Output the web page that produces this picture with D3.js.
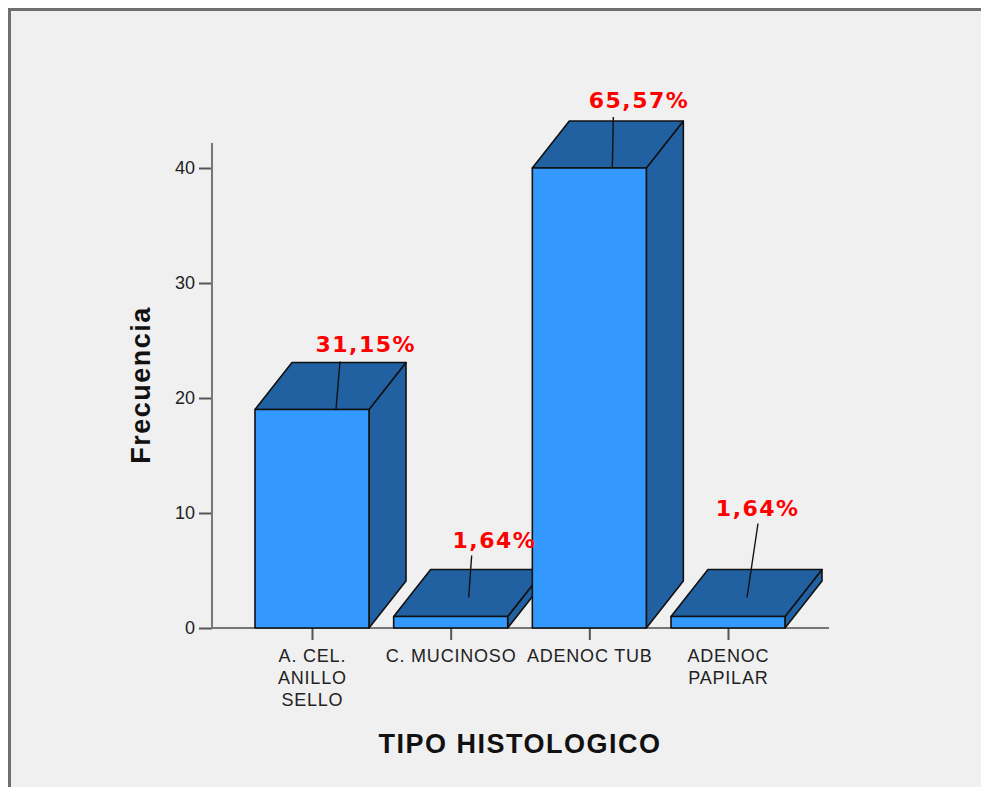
<!DOCTYPE html>
<html>
<head>
<meta charset="utf-8">
<script src="https://cdn.jsdelivr.net/npm/d3@7"></script>
<style>
  html, body { margin: 0; padding: 0; background: #ffffff; }
  svg { display: block; }
</style>
</head>
<body>
<svg id="chart" width="981" height="787"></svg>
<script>
// Histological type frequencies
const categories = ["A. CEL. ANILLO SELLO", "C. MUCINOSO", "ADENOC TUB", "ADENOC PAPILAR"];
const tickLabelLines = [["A. CEL.", "ANILLO", "SELLO"], ["C. MUCINOSO"], ["ADENOC TUB"], ["ADENOC", "PAPILAR"]];
const frequencies = [19, 1, 40, 1];
const percentLabels = ["31,15%", "1,64%", "65,57%", "1,64%"];
const yTicks = [0, 10, 20, 30, 40];

// Label placement relative to each bar's front-top centre: text anchor and leader line ends
const labelLayout = [
  { tx: 53, ty: -58, lx1: 28, ly1: -48, lx2: 24, ly2: 0 },
  { tx: 43, ty: -69, lx1: 21, ly1: -61, lx2: 18, ly2: -19 },
  { tx: 49, ty: -60, lx1: 24, ly1: -51, lx2: 23, ly2: -1 },
  { tx: 29, ty: -101, lx1: 30, ly1: -93, lx2: 19, ly2: -19 }
];

const svg = d3.select("#chart");
const FRONT = "#3399ff", DARK = "#2161a1", AXIS = "#777777";
const depthX = 37, depthY = -47;
const barW = 114;

// Panel frame
svg.append("rect").attr("x", 0).attr("y", 0).attr("width", 981).attr("height", 787).attr("fill", "#ffffff");
svg.append("rect").attr("x", 9.5).attr("y", 9.5).attr("width", 1100).attr("height", 1100)
  .attr("fill", "#f0f0f0").attr("stroke", "#6e6e6e").attr("stroke-width", 3);

const x = d3.scalePoint().domain(categories).range([312, 728]);
const y = d3.scaleLinear().domain([0, 40]).range([628, 168]);

// Y axis
const yAxis = svg.append("g").attr("transform", "translate(212,0)")
  .call(d3.axisLeft(y).tickValues(yTicks).tickSize(13).tickPadding(4));
yAxis.select(".domain").remove();
yAxis.selectAll(".tick line").attr("stroke", "#555").attr("stroke-width", 2);
yAxis.selectAll(".tick text")
  .attr("font-family", "Liberation Sans, Arial, sans-serif")
  .attr("font-size", 18).attr("fill", "#222");
svg.append("line").attr("x1", 212).attr("x2", 212).attr("y1", 143).attr("y2", 629)
  .attr("stroke", AXIS).attr("stroke-width", 2);

// X baseline and ticks
svg.append("line").attr("x1", 211).attr("x2", 829).attr("y1", 628).attr("y2", 628)
  .attr("stroke", AXIS).attr("stroke-width", 2);
const xAxis = svg.append("g").attr("transform", "translate(0,628)")
  .call(d3.axisBottom(x).tickSize(12).tickFormat(""));
xAxis.select(".domain").remove();
xAxis.selectAll(".tick line").attr("stroke", "#555").attr("stroke-width", 2);

// X tick labels (multi-line)
categories.forEach((c, i) => {
  const t = svg.append("text")
    .attr("x", x(c)).attr("y", 662)
    .attr("text-anchor", "middle")
    .attr("font-family", "Liberation Sans, Arial, sans-serif")
    .attr("font-size", 18).attr("letter-spacing", 0.8).attr("fill", "#222");
  tickLabelLines[i].forEach((ln, k) => {
    t.append("tspan").attr("x", x(c) + 0.4).attr("dy", k === 0 ? 0 : 22).text(ln);
  });
});

// 3D bars
const bars = svg.append("g");
categories.forEach((c, i) => {
  const x0 = x(c) - barW / 2, x1 = x(c) + barW / 2;
  const yt = y(frequencies[i]), yb = y(0);
  const g = bars.append("g").attr("stroke", "#111").attr("stroke-width", 1.6).attr("stroke-linejoin", "round");
  // side face
  g.append("path").attr("fill", DARK)
    .attr("d", `M${x1},${yb} L${x1 + depthX},${yb + depthY} L${x1 + depthX},${yt + depthY} L${x1},${yt} Z`);
  // top face
  g.append("path").attr("fill", DARK)
    .attr("d", `M${x0},${yt} L${x0 + depthX},${yt + depthY} L${x1 + depthX},${yt + depthY} L${x1},${yt} Z`);
  // front face
  g.append("rect").attr("fill", FRONT)
    .attr("x", x0).attr("y", yt).attr("width", barW).attr("height", yb - yt);
});

// Percentage labels with leader lines
categories.forEach((c, i) => {
  const cx = x(c), cy = y(frequencies[i]);
  const L = labelLayout[i];
  svg.append("line")
    .attr("x1", cx + L.lx1).attr("y1", cy + L.ly1)
    .attr("x2", cx + L.lx2).attr("y2", cy + L.ly2)
    .attr("stroke", "#111").attr("stroke-width", 1.4);
  svg.append("text")
    .attr("x", cx + L.tx + 0.75).attr("y", cy + L.ty)
    .attr("text-anchor", "middle")
    .attr("font-family", "DejaVu Sans, sans-serif")
    .attr("font-weight", "bold").attr("font-size", 22).attr("letter-spacing", 1.5)
    .attr("fill", "#ff0000")
    .text(percentLabels[i]);
});

// Axis titles
svg.append("text")
  .attr("x", 520).attr("y", 753).attr("text-anchor", "middle")
  .attr("font-family", "Liberation Sans, Arial, sans-serif")
  .attr("font-weight", "bold").attr("font-size", 27).attr("letter-spacing", 1.5)
  .attr("fill", "#111").text("TIPO HISTOLOGICO");

svg.append("text")
  .attr("transform", "translate(150,385) rotate(-90)")
  .attr("text-anchor", "middle")
  .attr("font-family", "Liberation Sans, Arial, sans-serif")
  .attr("font-weight", "bold").attr("font-size", 27).attr("letter-spacing", 1.5)
  .attr("fill", "#111").text("Frecuencia");
</script>
</body>
</html>
